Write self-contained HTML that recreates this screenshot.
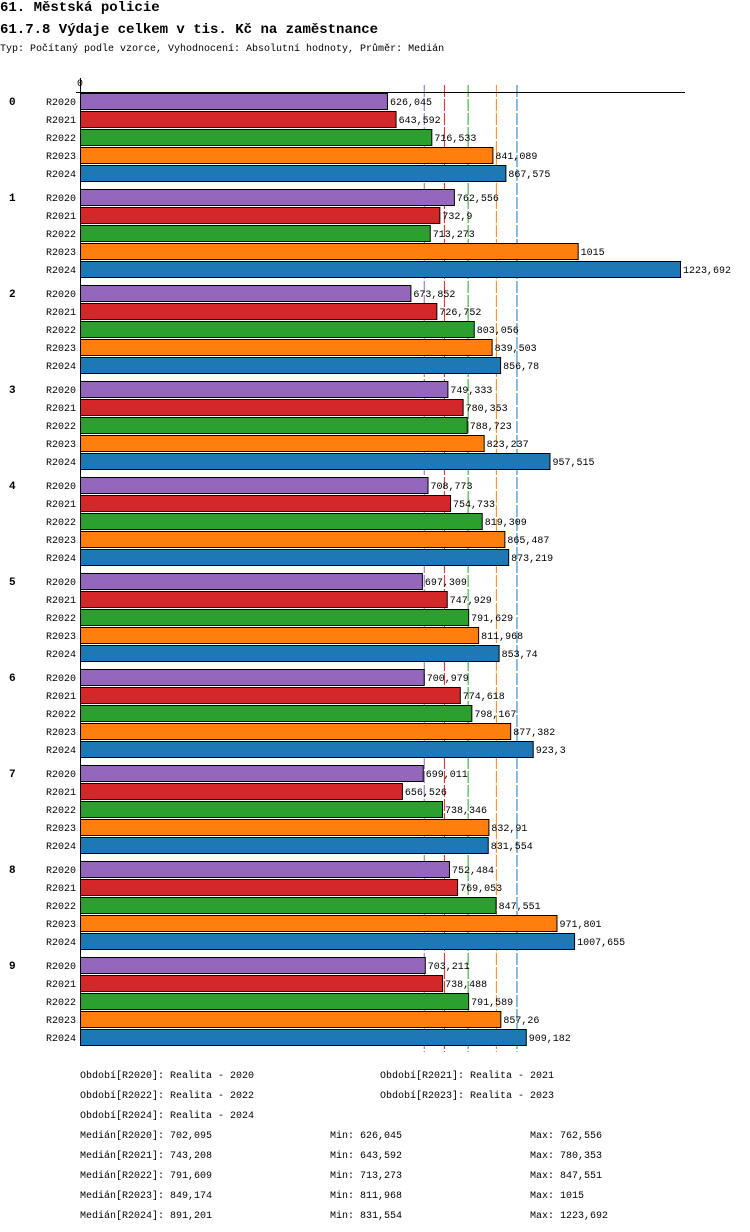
<!DOCTYPE html>
<html><head><meta charset="utf-8"><style>
body{margin:0;background:#fff;width:750px;height:1232px;overflow:hidden;font-family:"Liberation Mono",monospace;}
.t{position:absolute;left:0;font-weight:bold;font-size:14px;white-space:nowrap}
svg{position:absolute;left:0;top:0}
</style></head><body>
<div class="t" style="top:0">61. Městská policie</div>
<div class="t" style="top:22px">61.7.8 Výdaje celkem v tis. Kč na zaměstnance</div>
<div style="position:absolute;top:44px;left:0;font-size:10px;white-space:nowrap">Typ: Počítaný podle vzorce, Vyhodnocení: Absolutní hodnoty, Průměr: Medián</div>
<svg id="c" width="750" height="1232"></svg>
<script>
const groups=["0","1","2","3","4","5","6","7","8","9"];
const series=["R2020","R2021","R2022","R2023","R2024"];
const colors=["#9467bd","#d62728","#2ca02c","#ff7f0e","#1f77b4"];
const v2020=[626.045,762.556,673.852,749.333,708.773,697.309,700.979,699.011,752.484,703.211];
const v2021=[643.592,732.9,726.752,780.353,754.733,747.929,774.618,656.526,769.053,738.488];
const v2022=[716.533,713.273,803.056,788.723,819.309,791.629,798.167,738.346,847.551,791.589];
const v2023=[841.089,1015,839.503,823.237,865.487,811.968,877.382,832.91,971.801,857.26];
const v2024=[867.575,1223.692,856.78,957.515,873.219,853.74,923.3,831.554,1007.655,909.182];
const labels2020=["626,045","762,556","673,852","749,333","708,773","697,309","700,979","699,011","752,484","703,211"];
const labels2021=["643,592","732,9","726,752","780,353","754,733","747,929","774,618","656,526","769,053","738,488"];
const labels2022=["716,533","713,273","803,056","788,723","819,309","791,629","798,167","738,346","847,551","791,589"];
const labels2023=["841,089","1015","839,503","823,237","865,487","811,968","877,382","832,91","971,801","857,26"];
const labels2024=["867,575","1223,692","856,78","957,515","873,219","853,74","923,3","831,554","1007,655","909,182"];
const medians=[702.095,743.208,791.609,849.174,891.201];
const vals=[v2020,v2021,v2022,v2023,v2024];
const labs=[labels2020,labels2021,labels2022,labels2023,labels2024];
const svg=document.getElementById('c');const NS="http://www.w3.org/2000/svg";
const maxV=1223.692;
const x=v=>80+v/maxV*600;
const y=(g,r)=>93+g*96+r*18;
function mk(t,a,txt){const e=document.createElementNS(NS,t);for(const k in a)e.setAttribute(k,a[k]);if(txt!==undefined)e.textContent=txt;svg.appendChild(e);return e;}
medians.forEach((m,i)=>{
 const l=mk('line',{x1:x(m),x2:x(m),y1:85,y2:1052,stroke:colors[i],'stroke-width':1,'stroke-dasharray':'12,2'});
 
 
});
const ax=mk('line',{x1:76,x2:685,y1:92.5,y2:92.5,stroke:'#000'});


const ay=mk('line',{x1:80.5,x2:80.5,y1:78,y2:1046,stroke:'#000'});


const z=mk('text',{x:80,y:86,'font-size':10,'text-anchor':'middle','font-family':'Liberation Mono,monospace'},'0');


groups.forEach((g,gi)=>{
 const gt=mk('text',{x:9,y:y(gi,0)+12,'font-size':11,'font-weight':'bold','font-family':'Liberation Mono,monospace'},g);
 
 
 series.forEach((s,si)=>{
  const yy=y(gi,si);
  const st=mk('text',{x:76,y:yy+12,'font-size':10,'text-anchor':'end','font-family':'Liberation Mono,monospace'},s);
  
  
  const b=mk('rect',{x:80.5,y:yy+0.5,width:x(vals[si][gi])-80,height:16,fill:colors[si],stroke:'#000','stroke-width':1});
  
  
  const vt=mk('text',{x:x(vals[si][gi])+3,y:yy+12,'font-size':10,'font-family':'Liberation Mono,monospace'},labs[si][gi]);
  
  
 });
});
const foot=[
 [80,1078,"Období[R2020]: Realita - 2020"],[380,1078,"Období[R2021]: Realita - 2021"],
 [80,1098,"Období[R2022]: Realita - 2022"],[380,1098,"Období[R2023]: Realita - 2023"],
 [80,1118,"Období[R2024]: Realita - 2024"],
 [80,1138,"Medián[R2020]: 702,095"],[330,1138,"Min: 626,045"],[530,1138,"Max: 762,556"],
 [80,1158,"Medián[R2021]: 743,208"],[330,1158,"Min: 643,592"],[530,1158,"Max: 780,353"],
 [80,1178,"Medián[R2022]: 791,609"],[330,1178,"Min: 713,273"],[530,1178,"Max: 847,551"],
 [80,1198,"Medián[R2023]: 849,174"],[330,1198,"Min: 811,968"],[530,1198,"Max: 1015"],
 [80,1218,"Medián[R2024]: 891,201"],[330,1218,"Min: 831,554"],[530,1218,"Max: 1223,692"]];
foot.forEach(f=>{
 const t=mk('text',{x:f[0],y:f[1],'font-size':10,'font-family':'Liberation Mono,monospace'},f[2]);
 
 
});
</script>
</body></html>
